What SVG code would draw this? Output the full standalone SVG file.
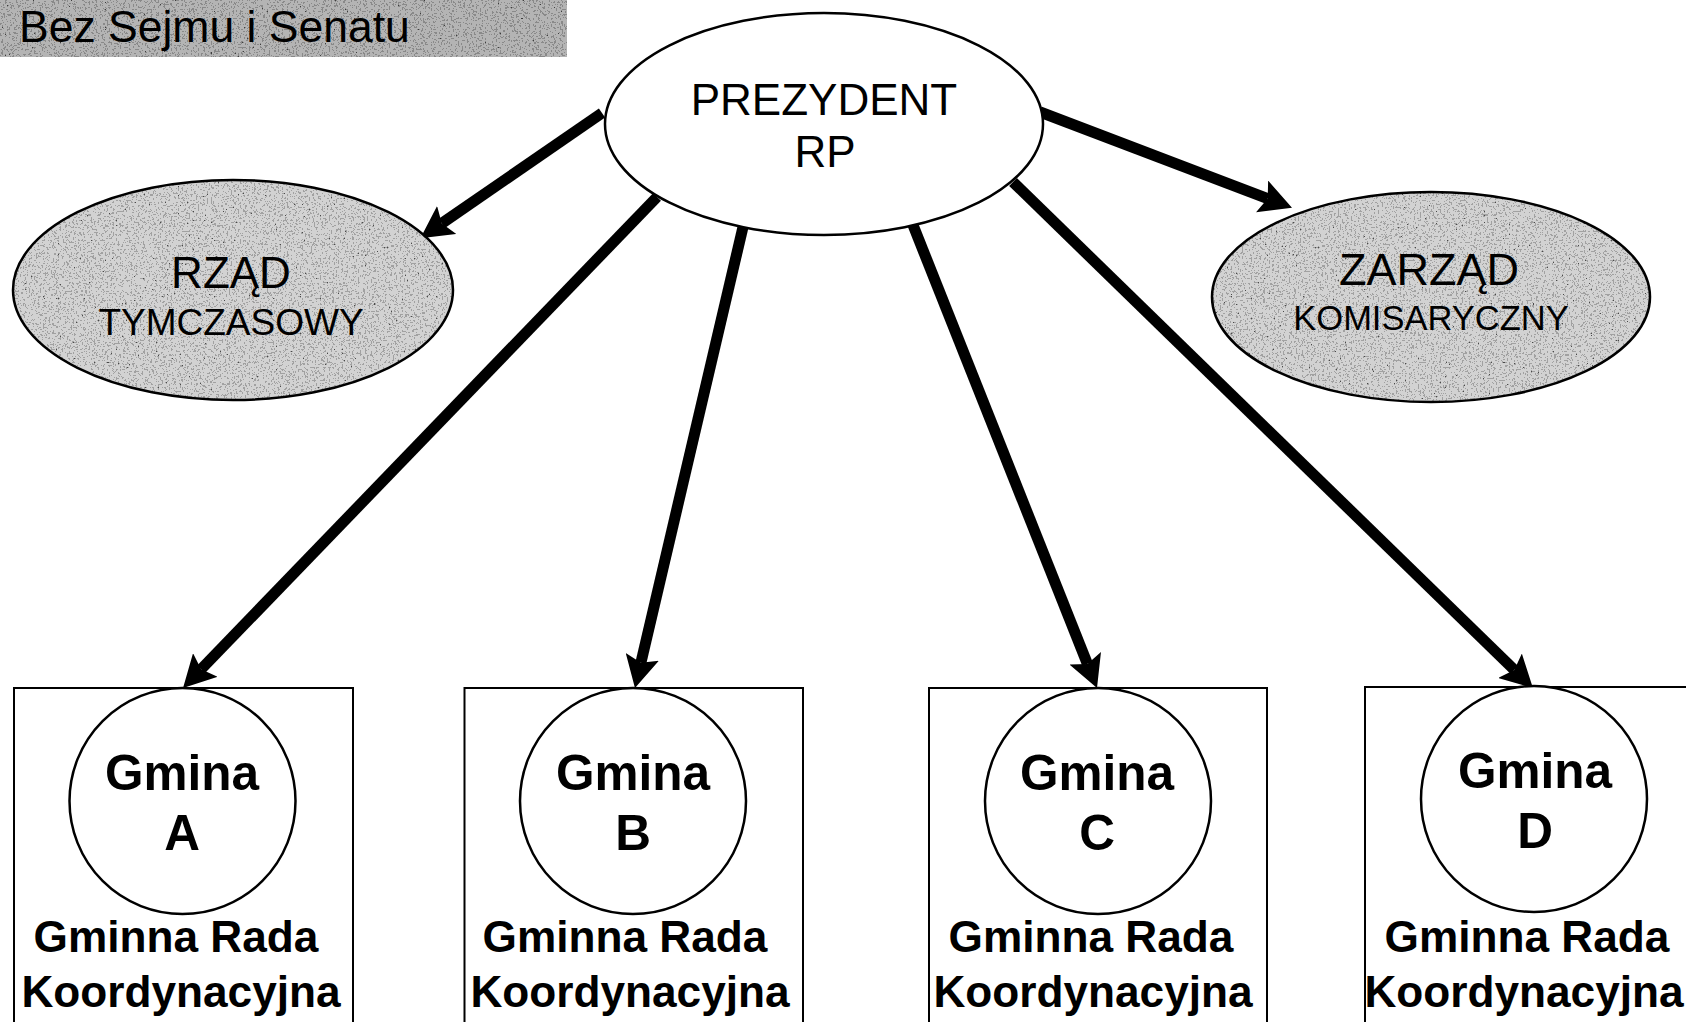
<svg xmlns="http://www.w3.org/2000/svg" width="1686" height="1022" viewBox="0 0 1686 1022">
<style>
  .outline { fill: none; stroke: #000; stroke-width: 2.5; }
  .box { fill: #fff; stroke: #000; stroke-width: 2; }
  .circ { fill: #fff; stroke: #000; stroke-width: 2.5; }
  .shade { fill: #d2d2d2; filter: url(#grain); }
  .hdr { fill: #b4b4b4; filter: url(#grain); }
  .t { font-family: "Liberation Sans", Arial, sans-serif; fill: #000; text-anchor: middle; }
  .b { font-weight: bold; font-size: 49.5px; }
  .r { font-weight: bold; font-size: 44.2px; }
  .conn { stroke: #000; stroke-width: 11; fill: none; marker-end: url(#head); }
</style>
<defs>
  <filter id="grain" x="0" y="0" width="1" height="1">
    <feTurbulence type="fractalNoise" baseFrequency="0.55" numOctaves="2" seed="4" result="t"/>
    <feColorMatrix in="t" type="matrix" values="0 0 0 0 0  0 0 0 0 0  0 0 0 0 0  1 0 0 0 0" result="a"/>
    <feComponentTransfer in="a" result="dots">
      <feFuncA type="discrete" tableValues="0 0 0 0.45 0.9"/>
    </feComponentTransfer>
    <feComposite in="dots" in2="SourceGraphic" operator="over" result="c"/>
    <feComposite in="c" in2="SourceAlpha" operator="in"/>
  </filter>
  <marker id="head" markerUnits="userSpaceOnUse" markerWidth="34" markerHeight="34" refX="6" refY="17" orient="auto" viewBox="0 0 34 34">
    <path d="M0,0 L32,17 L0,34 L6,17 z" fill="#000"/>
  </marker>
</defs>
<rect width="1686" height="1022" fill="#fff"/>

<g id="header">
  <rect class="hdr" x="0" y="0" width="567" height="57"/>
  <text class="t" x="19" y="42" font-size="44.5" style="text-anchor:start">Bez Sejmu i Senatu</text>
</g>

<g id="connectors">
  <path class="conn" d="M602,113 L441.8,223.4"/>
  <path class="conn" d="M1040,112 L1267.7,198.6"/>
  <path class="conn" d="M657,197 L201.1,669.3"/>
  <path class="conn" d="M743,227 L640.9,662.7"/>
  <path class="conn" d="M913,225 L1087.4,663.9"/>
  <path class="conn" d="M1013,182 L1514.3,669.9"/>
</g>

<g id="prezydent">
  <ellipse cx="824" cy="124" rx="219" ry="111" fill="#fff" stroke="#000" stroke-width="2.5"/>
  <text class="t" x="824" y="115" font-size="44">PREZYDENT</text>
  <text class="t" x="825" y="167" font-size="44">RP</text>
</g>

<g id="rzad">
  <ellipse class="shade" cx="233" cy="290" rx="220" ry="110"/>
  <ellipse class="outline" cx="233" cy="290" rx="220" ry="110"/>
  <text class="t" x="231" y="288" font-size="44">RZĄD</text>
  <text class="t" x="231" y="335" font-size="37">TYMCZASOWY</text>
</g>

<g id="zarzad">
  <ellipse class="shade" cx="1431" cy="297" rx="219" ry="105"/>
  <ellipse class="outline" cx="1431" cy="297" rx="219" ry="105"/>
  <text class="t" x="1429" y="285" font-size="45">ZARZĄD</text>
  <text class="t" x="1431" y="330" font-size="34.5">KOMISARYCZNY</text>
</g>

<g id="gmina-a">
  <rect class="box" x="14" y="688" width="339" height="350"/>
  <circle class="circ" cx="182.5" cy="801" r="113"/>
  <text class="t b" x="182" y="790">Gmina</text>
  <text class="t b" x="182" y="850">A</text>
  <text class="t r" x="176" y="952">Gminna Rada</text>
  <text class="t r" x="181" y="1007">Koordynacyjna</text>
</g>

<g id="gmina-b">
  <rect class="box" x="464.5" y="688" width="338.5" height="350"/>
  <circle class="circ" cx="633" cy="801" r="113"/>
  <text class="t b" x="633" y="790">Gmina</text>
  <text class="t b" x="633" y="850">B</text>
  <text class="t r" x="625" y="952">Gminna Rada</text>
  <text class="t r" x="630" y="1007">Koordynacyjna</text>
</g>

<g id="gmina-c">
  <rect class="box" x="929" y="688" width="338" height="350"/>
  <circle class="circ" cx="1098" cy="801" r="113"/>
  <text class="t b" x="1097" y="790">Gmina</text>
  <text class="t b" x="1097" y="850">C</text>
  <text class="t r" x="1091" y="952">Gminna Rada</text>
  <text class="t r" x="1093" y="1007">Koordynacyjna</text>
</g>

<g id="gmina-d">
  <rect class="box" x="1365" y="687" width="339" height="350"/>
  <circle class="circ" cx="1534" cy="799" r="113"/>
  <text class="t b" x="1535" y="788">Gmina</text>
  <text class="t b" x="1535" y="848">D</text>
  <text class="t r" x="1527" y="952">Gminna Rada</text>
  <text class="t r" x="1524" y="1007">Koordynacyjna</text>
</g>
</svg>
